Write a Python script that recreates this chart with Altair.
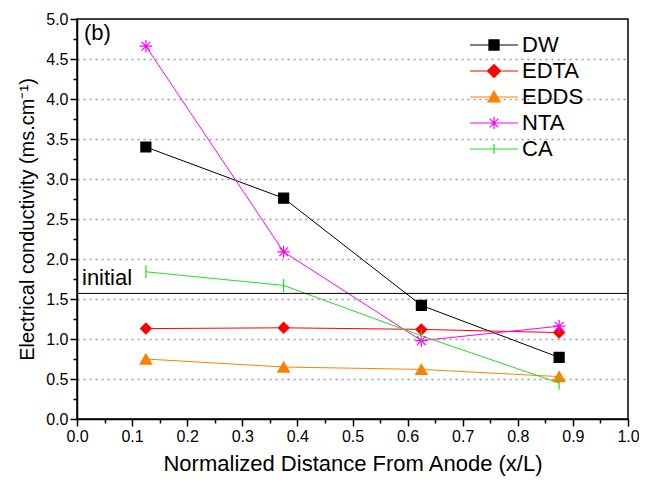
import altair as alt
import pandas as pd

SERIES = ["DW", "EDTA", "EDDS", "NTA", "CA"]
X_POS = [0.125, 0.375, 0.625, 0.875]
DW = [3.40, 2.76, 1.42, 0.77]
EDTA = [1.13, 1.14, 1.12, 1.08]
EDDS = [0.75, 0.65, 0.62, 0.53]
NTA = [4.66, 2.09, 0.98, 1.16]
CA = [1.84, 1.67, 1.04, 0.45]
INITIAL = 1.57

COLORS = ["#000000", "#ff0000", "#ff8000", "#ff00ff", "#22dd22"]
MARKERS = [
    "square",
    "diamond",
    "triangle-up",
    "M0,-1V1M-1,0H1M-0.71,-0.71L0.71,0.71M-0.71,0.71L0.71,-0.71",
    "M0,-1V1",
]
LEGEND_PATHS = [
    "M-1,0H1M-0.21,-0.21H0.21V0.21H-0.21Z",
    "M-1,0H1M0,-0.27L0.27,0L0,0.27L-0.27,0Z",
    "M-1,0H1M0,-0.25L0.25,0.2L-0.25,0.2Z",
    "M-1,0H1M0,-0.25V0.25M-0.25,0H0.25M-0.18,-0.18L0.18,0.18M-0.18,0.18L0.18,-0.18",
    "M-1,0H1M0,-0.21V0.21",
]

values = {"DW": DW, "EDTA": EDTA, "EDDS": EDDS, "NTA": NTA, "CA": CA}
rows = []
for s in SERIES:
    for x, y in zip(X_POS, values[s]):
        rows.append({"series": s, "x": x, "y": y})
df = pd.DataFrame(rows)

FONT = "Liberation Sans"

x_ticks = [round(i * 0.05, 2) for i in range(21)]
y_ticks = [round(i * 0.25, 2) for i in range(21)]

X_MAJOR = "abs(datum.value*10 - round(datum.value*10)) < 0.001"
Y_MAJOR = "abs(datum.value*2 - round(datum.value*2)) < 0.001"

x_enc = alt.X(
    "x:Q",
    scale=alt.Scale(domain=[0, 1], nice=False, zero=False),
    axis=alt.Axis(
        title="Normalized Distance From Anode (x/L)",
        values=x_ticks,
        labelExpr=f"{X_MAJOR} ? format(datum.value, '.1f') : ''",
        labelOverlap=False,
        labelFlush=False,
        tickSize={"condition": {"test": X_MAJOR, "value": 7}, "value": 4},
        grid=False,
        labelPadding=2,
        titlePadding=9,
        titleFontSize=22,
    ),
)
y_enc = alt.Y(
    "y:Q",
    scale=alt.Scale(domain=[0, 5], nice=False, zero=False),
    axis=alt.Axis(
        title="Electrical conductivity (ms.cm⁻¹)",
        values=y_ticks,
        labelExpr=f"{Y_MAJOR} ? format(datum.value, '.1f') : ''",
        labelOverlap=False,
        labelFlush=False,
        tickSize={"condition": {"test": Y_MAJOR, "value": 7}, "value": 4},
        grid=True,
        gridOpacity={"condition": {"test": f"{Y_MAJOR} && datum.value > 0.1 && datum.value < 4.9", "value": 1}, "value": 0},
        gridDash=[2, 4],
        gridColor="#999999",
        gridWidth=1.5,
        labelPadding=2,
        titlePadding=8,
        titleFontSize=20,
    ),
)

color_scale = alt.Scale(domain=SERIES, range=COLORS)

lines = alt.Chart(df).mark_line(strokeWidth=1).encode(
    color=alt.Color("series:N", scale=color_scale, legend=None),
    detail="series:N",
)

points = alt.Chart(df).mark_point(filled=True, strokeWidth=1.2, opacity=1).encode(
    fill=alt.Fill("series:N", scale=color_scale, legend=None),
    stroke=alt.Stroke("series:N", scale=color_scale, legend=None),
    shape=alt.Shape("series:N", scale=alt.Scale(domain=SERIES, range=MARKERS), legend=None),
    size=alt.Size("series:N", scale=alt.Scale(domain=SERIES, range=[100, 170, 130, 150, 120]), legend=None),
)

legend_layer = alt.Chart(df).transform_calculate(lg="datum.series").transform_filter("false").mark_point(
    filled=True, strokeWidth=1.2, opacity=1
).encode(
    shape=alt.Shape(
        "lg:N",
        scale=alt.Scale(domain=SERIES, range=LEGEND_PATHS),
        legend=alt.Legend(
            title=None,
            orient="none",
            legendX=392,
            legendY=18,
            symbolSize=2304,
            symbolStrokeWidth=1.2,
            clipHeight=16,
            rowPadding=4,
            labelFont=FONT,
            labelFontSize=22,
            labelOffset=3,
            labelColor="black",
        ),
    ),
    fill=alt.Fill("lg:N", scale=alt.Scale(domain=SERIES, range=COLORS)),
    stroke=alt.Stroke("lg:N", scale=alt.Scale(domain=SERIES, range=COLORS)),
)

init_df = pd.DataFrame({"x": [0.0], "x1": [1.0], "y": [INITIAL], "label": ["initial"]})
init_rule = alt.Chart(init_df).mark_rule(color="black", strokeWidth=1).encode(x2="x1:Q")
init_text = alt.Chart(init_df).mark_text(
    align="left", baseline="bottom", dx=5, dy=-3, font=FONT, fontSize=22, color="black"
).encode(text="label:N")

panel_df = pd.DataFrame({"x": [0.0], "y": [5.0], "t": ["(b)"]})
panel_label = alt.Chart(panel_df).mark_text(
    align="left", baseline="top", dx=7, dy=4, font=FONT, fontSize=22, color="black"
).encode(text="t:N")

chart = (
    alt.layer(lines, points, legend_layer, init_rule, init_text, panel_label)
    .encode(x=x_enc, y=y_enc)
    .resolve_scale(shape="independent", fill="independent", stroke="independent")
    .properties(
        width=551,
        height=400,
        autosize=alt.AutoSizeParams(type="none"),
        padding={"left": 69, "top": 11, "right": 11, "bottom": 58},
    )
    .configure_view(stroke="black", strokeWidth=1.5)
    .configure_axis(
        domainColor="black",
        domainWidth=1.5,
        tickColor="black",
        tickWidth=1.5,
        labelFont=FONT,
        labelFontSize=16,
        labelColor="black",
        titleFont=FONT,
        titleFontWeight="normal",
        titleColor="black",
    )
)

chart.save("out.html", embed_options={"renderer": "svg", "actions": False})
